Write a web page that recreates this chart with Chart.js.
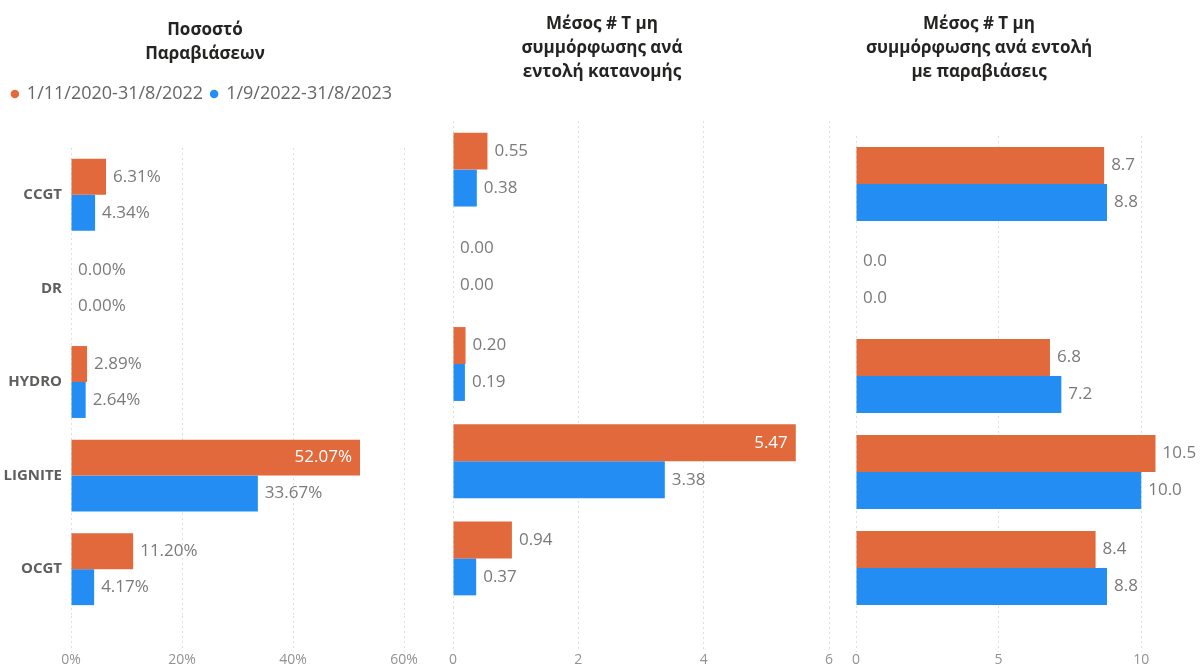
<!DOCTYPE html>
<html lang="el">
<head>
  <meta charset="UTF-8" />
  <title>Παραβιάσεις ανά τεχνολογία</title>
  <script src="https://cdn.jsdelivr.net/npm/chart.js"></script>
  <style>
    html, body { margin: 0; padding: 0; background: #fff; overflow: hidden; }
    body { width: 1200px; height: 668px; position: relative; font-family: "Open Sans", sans-serif; }
    .panel { position: absolute; top: 0; height: 668px; }
    .title {
      position: absolute; width: 320px; text-align: center; z-index: 2;
      font-weight: bold; font-size: 17px; line-height: 24px; color: #252423;
    }
  </style>
</head>
<body>

  <div class="panel" style="left:0;width:420px"><canvas id="chart1"></canvas></div>
  <div class="panel" style="left:420px;width:420px"><canvas id="chart2"></canvas></div>
  <div class="panel" style="left:830px;width:370px"><canvas id="chart3"></canvas></div>

  <div class="title" style="left:45px;top:17px">Ποσοστό<br>Παραβιάσεων</div>
  <div class="title" style="left:442px;top:11px">Μέσος # Τ μη<br>συμμόρφωσης ανά<br>εντολή κατανομής</div>
  <div class="title" style="left:819px;top:11px">Μέσος # Τ μη<br>συμμόρφωσης ανά εντολή<br>με παραβιάσεις</div>

  <script>
    // κατηγορίες και περίοδοι
    const categories = ['CCGT', 'DR', 'HYDRO', 'LIGNITE', 'OCGT'];
    const periods = ['1/11/2020-31/8/2022', '1/9/2022-31/8/2023'];

    // Ποσοστό Παραβιάσεων (%)
    const violPctOld = [6.31, 0.00, 2.89, 52.07, 11.20];
    const violPctNew = [4.34, 0.00, 2.64, 33.67, 4.17];

    // Μέσος # Τ ανά εντολή κατανομής
    const avgPerOrderOld = [0.55, 0.00, 0.20, 5.47, 0.94];
    const avgPerOrderNew = [0.38, 0.00, 0.19, 3.38, 0.37];

    // Μέσος # Τ ανά εντολή με παραβιάσεις
    const avgViolOrderOld = [8.7, 0.0, 6.8, 10.5, 8.4];
    const avgViolOrderNew = [8.8, 0.0, 7.2, 10.0, 8.8];

    const orange = '#E2693C';
    const blue = '#238DF3';
    const FONT = "'Open Sans', sans-serif";
    Chart.defaults.font.family = FONT;

    // ετικέτες τιμών δίπλα στις μπάρες
    const barLabels = {
      id: 'barLabels',
      afterDatasetsDraw(chart, args, opts) {
        const ctx = chart.ctx;
        ctx.save();
        ctx.font = '17px ' + FONT;
        ctx.textBaseline = 'middle';
        chart.data.datasets.forEach((ds, i) => {
          chart.getDatasetMeta(i).data.forEach((bar, j) => {
            const v = ds.data[j];
            const text = v.toFixed(opts.decimals) + opts.suffix;
            if (v >= opts.insideFrom) {
              ctx.fillStyle = '#ffffff';
              ctx.textAlign = 'right';
              ctx.fillText(text, bar.x - 8, bar.y);
            } else {
              ctx.fillStyle = '#7a7a7a';
              ctx.textAlign = 'left';
              ctx.fillText(text, bar.x + 7, bar.y);
            }
          });
        });
        ctx.restore();
      }
    };

    // επιπλέον κενό κάτω από το υπόμνημα
    const legendGap = {
      id: 'legendGap',
      beforeInit(chart) {
        const fit = chart.legend.fit;
        chart.legend.fit = function () {
          fit.call(this);
          this.height += 35;
        };
      }
    };

    function makeChart(id, oldData, newData, cfg) {
      return new Chart(document.getElementById(id), {
        type: 'bar',
        data: {
          labels: categories,
          datasets: [
            { label: periods[0], data: oldData, backgroundColor: orange,
              categoryPercentage: cfg.catPct, barPercentage: 1 },
            { label: periods[1], data: newData, backgroundColor: blue,
              categoryPercentage: cfg.catPct, barPercentage: 1 }
          ]
        },
        options: {
          indexAxis: 'y',
          responsive: true,
          maintainAspectRatio: false,
          animation: false,
          layout: { padding: { top: cfg.top, right: cfg.right, bottom: 0, left: 0 } },
          plugins: {
            legend: {
              display: cfg.legend,
              position: 'top',
              labels: {
                usePointStyle: true, pointStyle: 'circle',
                boxWidth: 6, boxHeight: 6, padding: 8,
                color: '#666666', font: { size: 18 }
              }
            },
            tooltip: { enabled: false },
            barLabels: { decimals: cfg.decimals, suffix: cfg.suffix, insideFrom: cfg.insideFrom }
          },
          scales: {
            x: {
              min: 0,
              max: cfg.max,
              ticks: {
                stepSize: cfg.step,
                includeBounds: false,
                padding: 1,
                color: '#929292',
                font: { size: 14, lineHeight: 1 },
                callback: v => v + cfg.suffix
              },
              grid: {
                color: '#dedede', tickColor: '#dedede',
                tickLength: cfg.tick, tickBorderDash: [2, 3]
              },
              border: { display: false, dash: [2, 3] }
            },
            y: {
              grid: { display: false, drawTicks: false },
              border: { display: false },
              ticks: {
                display: cfg.showCats,
                padding: 9,
                color: '#605E5C',
                font: { size: 15, weight: 'bold' }
              },
              afterFit(scale) { scale.width = cfg.axisW; }
            }
          }
        },
        plugins: cfg.legend ? [barLabels, legendGap] : [barLabels]
      });
    }

    makeChart('chart1', violPctOld, violPctNew, {
      legend: true, showCats: true, axisW: 71, top: 77, right: 16, tick: 36,
      max: 60, step: 20, suffix: '%', decimals: 2, insideFrom: 45, catPct: 0.768
    });

    makeChart('chart2', avgPerOrderOld, avgPerOrderNew, {
      legend: false, showCats: false, axisW: 33, top: 121, right: 11, tick: 45,
      max: 6, step: 2, suffix: '', decimals: 2, insideFrom: 5, catPct: 0.76
    });

    makeChart('chart3', avgViolOrderOld, avgViolOrderNew, {
      legend: false, showCats: false, axisW: 26, top: 136, right: 16, tick: 36,
      max: 11.5, step: 5, suffix: '', decimals: 1, insideFrom: Infinity, catPct: 0.77
    });
  </script>

</body>
</html>
